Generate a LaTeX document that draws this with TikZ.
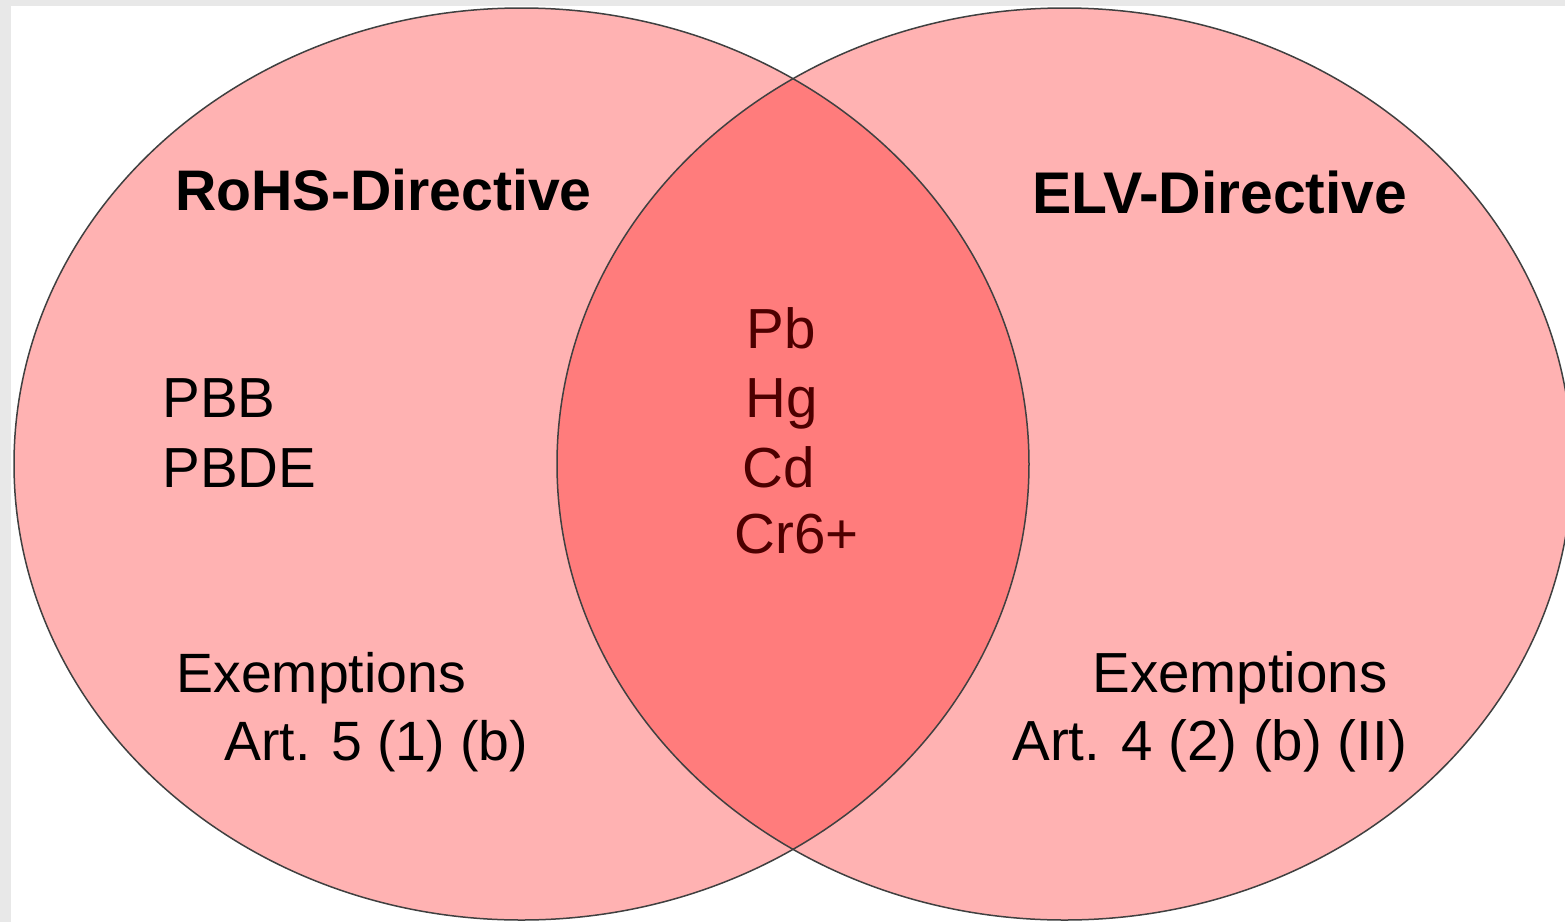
\documentclass[tikz,border=0pt]{standalone}
\usepackage{fontspec}
\setmainfont{Liberation Sans}
\begin{document}
\begin{tikzpicture}[x=0.5pt,y=-0.5pt,
  lbl/.style={inner sep=0pt, anchor=base west, font=\fontsize{28.25}{34}\selectfont},
  lblsm/.style={inner sep=0pt, anchor=base west, font=\fontsize{27.7}{34}\selectfont},
  ttl/.style={inner sep=0pt, anchor=base west, font=\fontsize{28.6}{34}\selectfont\bfseries},
  ttlbig/.style={inner sep=0pt, anchor=base west, font=\fontsize{29.4}{34}\selectfont\bfseries},
  vennfill/.style={fill=red, fill opacity=0.3},
  rim/.style={draw=black!75, line width=0.75pt}]
\useasboundingbox (0,0) rectangle (1565,922);
\clip (0,0) rectangle (1565,922);
\fill[black!9] (0,0) rectangle (1565,922);
\fill[white] (11,6) rectangle (1565,922);
% left set
\fill[vennfill] (521.5,464) ellipse [x radius=507.5, y radius=456];
% shared substances (lie beneath the right set)
\node[lbl] (pb) at (746,348) {Pb};
\node[lbl] (hg) at (745,417) {Hg};
\node[lbl] (cd) at (742,487) {Cd};
\node[lbl] (cr) at (734,553) {Cr6+};
% right set
\fill[vennfill] (1064.5,464) ellipse [x radius=507.5, y radius=456];
% outlines
\draw[rim] (521.5,464) ellipse [x radius=507.5, y radius=456];
\draw[rim] (1064.5,464) ellipse [x radius=507.5, y radius=456];
% labels
\node[ttl] (rohs) at (175,210) {RoHS-Directive};
\node[ttlbig] (elv) at (1032,213) {ELV-Directive};
\node[lbl] (pbb) at (162,417) {PBB};
\node[lbl] (pbde) at (162,487) {PBDE};
\node[lblsm] (exl) at (176,692) {Exemptions};
\node[lblsm] (artl) at (224,760) {Art. 5 (1) (b)};
\node[lbl] (exr) at (1092,692) {Exemptions};
\node[lbl] (artr) at (1012,760) {Art. 4 (2) (b) (II)};
\end{tikzpicture}
\end{document}
